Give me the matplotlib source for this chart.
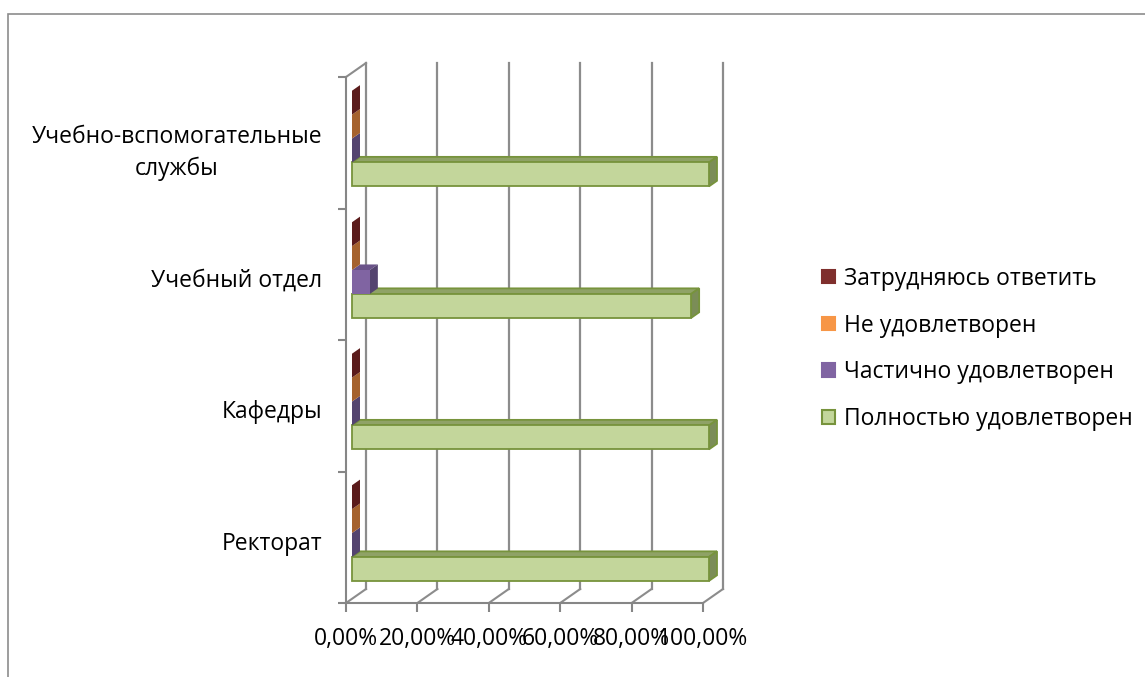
import numpy as np
import matplotlib.pyplot as plt
from matplotlib.patches import Polygon, Patch, Rectangle

# данные (доля ответов, %)
categories = ['Ректорат', 'Кафедры', 'Учебный отдел', 'Учебно-вспомогательные\nслужбы']
series_names = ['Полностью удовлетворен', 'Частично удовлетворен', 'Не удовлетворен', 'Затрудняюсь ответить']
full_sat = [100, 100, 95, 100]
part_sat = [0, 0, 5, 0]
not_sat = [0, 0, 0, 0]
hard_to_say = [0, 0, 0, 0]
x_ticks = [0, 20, 40, 60, 80, 100]
x_tick_labels = ['0,00%', '20,00%', '40,00%', '60,00%', '80,00%', '100,00%']

# цвета: лицевая грань, верхняя грань, торец, обводка
colors = [
    ('#C3D69B', '#8FA266', '#7B8D57', '#77933C'),
    ('#8064A2', '#6A5388', '#54446F', 'none'),
    ('#F79646', '#C97A3A', '#A5622E', 'none'),
    ('#7F2F2D', '#6A2424', '#5B1C1C', 'none'),
]

plt.rcParams['font.family'] = ['Open Sans', 'DejaVu Sans']
FS = 16.5
W, H = 1145, 677

fig = plt.figure(figsize=(W / 100, H / 100), dpi=100)
# передняя плоскость осей в пикселях: x 346..703, y 77..603
ax = fig.add_axes([346 / W, 1 - 603 / H, 357 / W, 526 / H])
ax.set_xlim(0, 100)
ax.set_ylim(0, len(categories))

# глубина (3D сдвиг) в единицах данных
DX = 20 / (357 / 100)
DY = 14 / (526 / len(categories))


def pt(x, y, d):
    return (x + d * DX, y + d * DY)


grid_c = '#8C8C8C'
# задняя стенка и пол
for x in x_ticks:
    ax.plot(*zip(pt(x, 0, 1), pt(x, len(categories), 1)), color=grid_c, lw=1.6, clip_on=False, zorder=1)
    ax.plot(*zip(pt(x, 0, 0), pt(x, 0, 1)), color=grid_c, lw=1.5, clip_on=False, zorder=1)
ax.plot(*zip(pt(0, len(categories), 0), pt(0, len(categories), 1)), color=grid_c, lw=1.5, clip_on=False, zorder=1)

# столбцы
all_series = [full_sat, part_sat, not_sat, hard_to_say]
slot = 1 / 5.5
d0, d1 = 0.3, 0.7
for i in range(len(categories)):
    for j, vals in enumerate(all_series):
        v = vals[i]
        y0 = i + 0.75 * slot + j * slot
        y1 = y0 + slot
        fc, tc, sc, ec = colors[j]
        front = [pt(0, y0, d0), pt(v, y0, d0), pt(v, y1, d0), pt(0, y1, d0)]
        top = [pt(0, y1, d0), pt(v, y1, d0), pt(v, y1, d1), pt(0, y1, d1)]
        side = [pt(v, y0, d0), pt(v, y0, d1), pt(v, y1, d1), pt(v, y1, d0)]
        for poly, c in [(top, tc), (side, sc), (front, fc)]:
            ax.add_patch(Polygon(poly, closed=True, facecolor=c, edgecolor=ec,
                                 lw=1.3, clip_on=False, zorder=2 + i * 0.1 + j * 0.01))

# оси
for s in ['top', 'right']:
    ax.spines[s].set_visible(False)
for s in ['left', 'bottom']:
    ax.spines[s].set_color('#868686')
    ax.spines[s].set_linewidth(1.5)
    ax.spines[s].set_zorder(1)

ax.set_xticks(x_ticks)
ax.set_xticklabels(x_tick_labels, fontsize=FS)
ax.tick_params(axis='x', length=6.5, width=1.5, color='#868686', pad=10.5)
ax.set_yticks(range(len(categories) + 1))
ax.set_yticklabels([''] * (len(categories) + 1))
ax.tick_params(axis='y', which='major', length=6, width=1.5, color='#868686')
ax.set_yticks(np.arange(len(categories)) + 0.475, minor=True)
ax.set_yticklabels(categories, minor=True, fontsize=FS, ma='center', linespacing=1.45)
ax.tick_params(axis='y', which='minor', length=0, pad=17)
ax.patch.set_visible(False)

# легенда
handles = [Patch(facecolor=colors[j][0], edgecolor=colors[j][3] if colors[j][3] != 'none' else colors[j][0],
                 lw=1.5, label=series_names[j]) for j in [3, 2, 1, 0]]
fig.legend(handles=handles, loc='center left', bbox_to_anchor=(822 / W, 1 - 349 / H),
           frameon=False, fontsize=FS, handlelength=0.55, handleheight=0.55,
           handletextpad=0.4, labelspacing=1.0, borderpad=0, borderaxespad=0)

# рамка диаграммы
fig.patches.append(Rectangle((8 / W, -0.1), 1.1, 1 - 14 / H + 0.1, transform=fig.transFigure,
                             fill=False, edgecolor='#8C8C8C', lw=1.2))

fig.savefig('out.png', dpi=100)
